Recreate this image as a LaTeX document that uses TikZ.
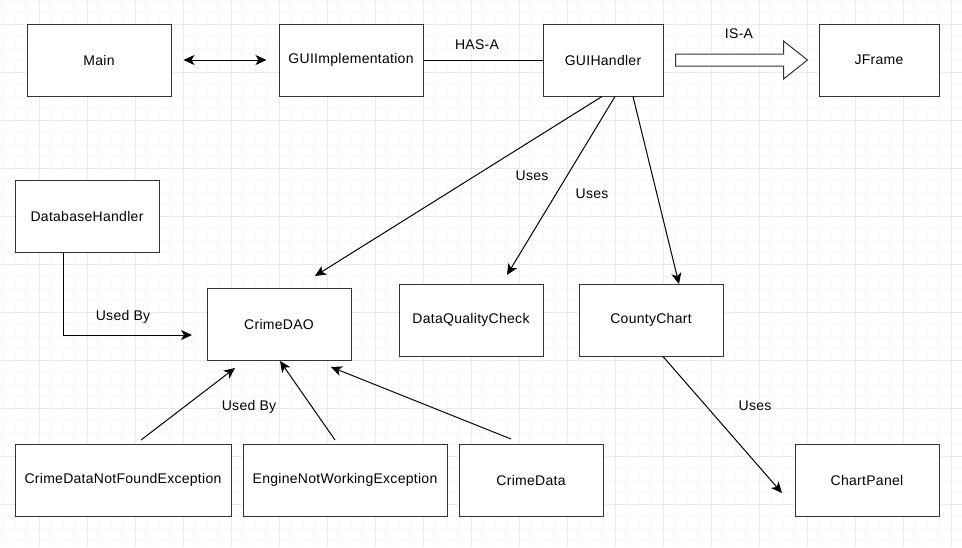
\documentclass[tikz,border=0pt]{standalone}
\usepackage{fontspec}
\setmainfont{Liberation Sans}[LetterSpace=2]
\usetikzlibrary{arrows.meta,calc}
\definecolor{minorgrid}{HTML}{F7F7F7}
\definecolor{majorgrid}{HTML}{EBEBEB}
\definecolor{boxline}{HTML}{333333}
\tikzset{
  cls/.style={draw=boxline, line width=1pt, fill=white, minimum height=72pt, inner sep=0pt, font=\fontsize{14}{16}\selectfont},
  tip/.style={Stealth[length=11pt,width=10pt,inset=3pt]},
  conn/.style={line width=1pt, -{Stealth[length=11pt,width=10pt,inset=3pt]}},
  lbl/.style={font=\fontsize{14}{16}\selectfont, inner sep=0pt}
}
\begin{document}
\begin{tikzpicture}[x=1pt,y=-1pt]
\useasboundingbox (0,0) rectangle (962,547);
\fill[white] (0,0) rectangle (962,547);
% grid
\foreach \x in {3,15,...,962} \draw[minorgrid, line width=0.8pt] (\x,0) -- (\x,547);
\foreach \y in {0,12,...,547} \draw[minorgrid, line width=0.8pt] (0,\y) -- (962,\y);
\foreach \x in {39,87,...,962} \draw[majorgrid, line width=0.8pt] (\x,0) -- (\x,547);
\foreach \y in {24,72,...,547} \draw[majorgrid, line width=0.8pt] (0,\y) -- (962,\y);

% nodes
\node[cls, minimum width=144pt] (main) at (99,60) {Main};
\node[cls, minimum width=144pt] (guiimpl) at (351,60) {GUIImplementation};
\node[cls, minimum width=120pt] (guih) at (603,60) {GUIHandler};
\node[cls, minimum width=120pt] (jframe) at (879,60) {JFrame};
\node[cls, minimum width=144pt] (dbh) at (87,216) {DatabaseHandler};
\node[cls, minimum width=144pt] (dao) at (279,324) {CrimeDAO};
\node[cls, minimum width=144pt] (dqc) at (471,320) {DataQualityCheck};
\node[cls, minimum width=144pt] (cc) at (651,320) {CountyChart};
\node[cls, minimum width=216pt] (cdnfe) at (123,480) {CrimeDataNotFoundException};
\node[cls, minimum width=204pt] (enwe) at (345,480) {EngineNotWorkingException};
\node[cls, minimum width=144pt] (cd) at (531,480) {CrimeData};
\node[cls, minimum width=144pt] (cp) at (867,480) {ChartPanel};

% Main <-> GUIImplementation
\coordinate (m1) at ([xshift=12pt]main.east);
\coordinate (m2) at ([xshift=-12pt]guiimpl.west);
\draw[line width=1pt, {Stealth[length=11pt,width=10pt,inset=3pt]}-{Stealth[length=11pt,width=10pt,inset=3pt]}] (m1) -- (m2);

% HAS-A
\draw[line width=1pt] (guiimpl.east) -- (guih.west);
\node[lbl] (hasa) at (477,45) {HAS-A};

% IS-A block arrow
\coordinate (b0) at ([xshift=12pt,yshift=6pt]guih.east);
\draw[line width=1pt, boxline, fill=white]
  (b0) -- ++(108,0) -- ++(0,-13) -- ++(24,19) -- ++(-24,19) -- ++(0,-13) -- ++(-108,0) -- cycle;
\node[lbl] (isa) at (739,34) {IS-A};

% GUIHandler uses
\coordinate (t1) at (315,276);
\coordinate (t2) at (507,275);
\coordinate (t3) at (679,284);
\draw[conn] ([xshift=-1pt]guih.south) -- (t1);
\draw[conn] ([xshift=12pt]guih.south) -- (t2);
\draw[conn] ([xshift=30pt]guih.south) -- (t3);
\node[lbl] (u1) at (532,176) {Uses};
\node[lbl] (u2) at (592,194) {Uses};

% DatabaseHandler used by
\coordinate (t4) at (192,335);
\draw[conn] ([xshift=-24pt]dbh.south) |- (t4);
\node[lbl] (ub1) at (123,317) {Used By};

% CountyChart uses ChartPanel
\coordinate (t5) at (782,493);
\draw[conn] ([xshift=12pt]cc.south) -- (t5);
\node[lbl] (u3) at (755,406) {Uses};

% Exceptions used by CrimeDAO
\coordinate (s6) at (141,440);
\coordinate (t6) at (235,368);
\coordinate (s7) at (335,440);
\coordinate (t7) at (280,361);
\coordinate (s8) at (511,439);
\coordinate (t8) at (331,367);
\draw[conn] (s6) -- (t6);
\draw[conn] (s7) -- (t7);
\draw[conn] (s8) -- (t8);
\node[lbl] (ub2) at (249,407) {Used By};
\end{tikzpicture}
\end{document}
